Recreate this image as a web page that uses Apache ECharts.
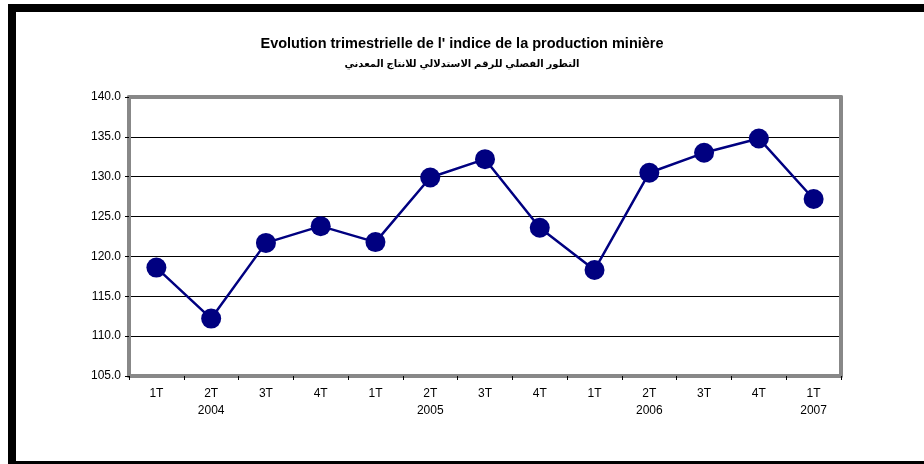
<!DOCTYPE html>
<html>
<head>
<meta charset="utf-8">
<script src="https://cdn.jsdelivr.net/npm/echarts@6/dist/echarts.min.js"></script>
<style>
  html, body { margin: 0; padding: 0; background: #fff; }
  #main { width: 924px; height: 464px; }
</style>
</head>
<body>
<div id="main"></div>
<script>
// trimestres et annees
var quarters = ['1T', '2T', '3T', '4T', '1T', '2T', '3T', '4T', '1T', '2T', '3T', '4T', '1T'];
var years    = ['', '2004', '', '', '', '2005', '', '', '', '2006', '', '', '2007'];
// indice de la production miniere
var indice = [118.6, 112.2, 121.7, 123.8, 121.8, 129.9, 132.2, 123.6, 118.3, 130.5, 133.0, 134.8, 127.2];

var labels = [];
for (var i = 0; i < quarters.length; i++) {
    labels.push(years[i] ? quarters[i] + '\n' + years[i] : quarters[i]);
}

var font = "'Liberation Sans', Arial, 'DejaVu Sans', sans-serif";
var chart = echarts.init(document.getElementById('main'));

chart.setOption({
    animation: false,
    backgroundColor: '#fff',
    title: [{
        text: "Evolution trimestrielle de l' indice de la production minière",
        left: 'center',
        top: 31,
        textStyle: { fontFamily: font, fontSize: 14.5, fontWeight: 'bold', color: '#000' }
    }, {
        text: 'التطور الفصلي للرقم الاستدلالي للانتاج المعدني',
        left: 'center',
        top: 54,
        textStyle: { fontFamily: font, fontSize: 10, fontWeight: 'bold', color: '#000' }
    }],
    grid: { left: 129, right: 83, top: 97, bottom: 88 },
    xAxis: [{
        type: 'category',
        data: labels,
        boundaryGap: true,
        axisLine: { lineStyle: { color: '#888', width: 4 } },
        axisTick: { show: true, length: 4, lineStyle: { color: '#000' } },
        axisLabel: { fontFamily: font, fontSize: 12, color: '#000', lineHeight: 17, margin: 9, interval: 0 }
    }, {
        type: 'category',
        position: 'top',
        data: labels,
        axisLine: { lineStyle: { color: '#888', width: 4 } },
        axisTick: { show: false },
        axisLabel: { show: false }
    }],
    yAxis: [{
        type: 'value',
        min: 105,
        max: 140,
        interval: 5,
        axisLine: { show: true, lineStyle: { color: '#888', width: 4 } },
        axisTick: { show: true, length: 4, lineStyle: { color: '#000' } },
        axisLabel: {
            fontFamily: font, fontSize: 12, color: '#000', margin: 8,
            formatter: function (v) { return v.toFixed(1); }
        },
        splitLine: { show: true, lineStyle: { color: '#000', width: 1 } }
    }, {
        type: 'value',
        position: 'right',
        min: 105,
        max: 140,
        interval: 5,
        axisLine: { show: true, lineStyle: { color: '#888', width: 4 } },
        axisTick: { show: false },
        axisLabel: { show: false },
        splitLine: { show: false }
    }],
    series: [{
        type: 'line',
        data: indice,
        symbol: 'circle',
        symbolSize: 20,
        itemStyle: { color: '#000080' },
        lineStyle: { color: '#000080', width: 2.5 },
        z: 5
    }],
    graphic: [
        { type: 'rect', shape: { x: 8, y: 4, width: 916, height: 8 }, style: { fill: '#000' } },
        { type: 'rect', shape: { x: 8, y: 4, width: 8, height: 460 }, style: { fill: '#000' } },
        { type: 'rect', shape: { x: 8, y: 461, width: 916, height: 3 }, style: { fill: '#000' } }
    ]
});
</script>
</body>
</html>
